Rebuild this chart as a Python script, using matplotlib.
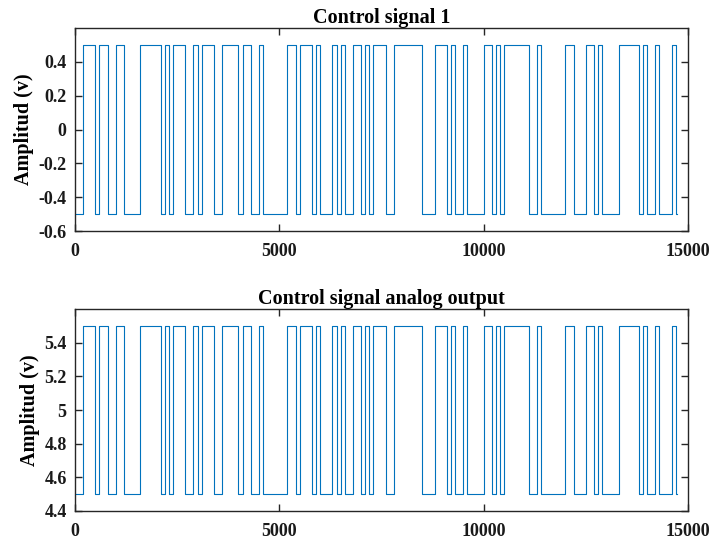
import matplotlib
matplotlib.use("Agg")
import matplotlib.pyplot as plt
import numpy as np

# Switching instants of the control signal (sample index) and level held from each instant
switch_times = [0, 200, 500, 600, 800, 1000, 1200, 1600, 2100, 2200, 2300, 2400, 2700,
                2900, 3000, 3100, 3400, 3600, 4000, 4100, 4300, 4500, 4600, 5200, 5400,
                5500, 5800, 5900, 6000, 6300, 6400, 6500, 6600, 6800, 7000, 7100, 7200,
                7300, 7600, 7800, 8500, 8800, 9100, 9200, 9300, 9500, 9600, 10000, 10200,
                10300, 10400, 10500, 11100, 11300, 11400, 12000, 12200, 12500, 12700,
                12800, 12900, 13300, 13800, 13900, 14000, 14200, 14300, 14600, 14700]
levels = [-0.5, 0.5, -0.5, 0.5, -0.5, 0.5, -0.5, 0.5, -0.5, 0.5, -0.5, 0.5, -0.5,
          0.5, -0.5, 0.5, -0.5, 0.5, -0.5, 0.5, -0.5, 0.5, -0.5, 0.5, -0.5,
          0.5, -0.5, 0.5, -0.5, 0.5, -0.5, 0.5, -0.5, 0.5, -0.5, 0.5, -0.5,
          0.5, -0.5, 0.5, -0.5, 0.5, -0.5, 0.5, -0.5, 0.5, -0.5, 0.5, -0.5,
          0.5, -0.5, 0.5, -0.5, 0.5, -0.5, 0.5, -0.5, 0.5, -0.5,
          0.5, -0.5, 0.5, -0.5, 0.5, -0.5, 0.5, -0.5, 0.5, -0.5]
end_time = 14740
analog_offset = 5.0

titles = ["Control signal 1", "Control signal analog output"]
ylabel = "Amplitud (v)"
xticks = [0, 5000, 10000, 15000]
yticks_top = [-0.6, -0.4, -0.2, 0, 0.2, 0.4]
ytick_labels_top = ["-0.6", "-0.4", "-0.2", "0", "0.2", "0.4"]
yticks_bot = [4.4, 4.6, 4.8, 5.0, 5.2, 5.4]
ytick_labels_bot = ["4.4", "4.6", "4.8", "5", "5.2", "5.4"]

t = np.array(switch_times + [end_time])
v = np.array(levels + [levels[-1]])

plt.rcParams['font.family'] = ['Liberation Serif', 'DejaVu Serif']
plt.rcParams['font.weight'] = 'bold'

fig = plt.figure(figsize=(7.12, 5.41), dpi=100)
ax1 = fig.add_axes([0.1053, 0.573, 0.861, 0.375])
ax2 = fig.add_axes([0.1053, 0.0555, 0.861, 0.373])

blue = '#0072BD'
axc = '#262626'

specs = [
    (ax1, v, (-0.6, 0.6), yticks_top, ytick_labels_top, titles[0]),
    (ax2, v + analog_offset, (4.4, 5.6), yticks_bot, ytick_labels_bot, titles[1]),
]
for ax, y, ylim, yt, ytl, title in specs:
    ax.plot(t, y, drawstyle='steps-post', color=blue, linewidth=0.8)
    ax.set_xlim(0, 15000)
    ax.set_ylim(*ylim)
    ax.set_xticks(xticks)
    ax.set_xticklabels([str(x) for x in xticks])
    ax.set_yticks(yt)
    ax.set_yticklabels(ytl)
    ax.tick_params(direction='in', length=5, width=1.0, colors=axc,
                   top=True, right=True, labelsize=13)
    ax.tick_params(axis='x', pad=8.5)
    ax.tick_params(axis='y', pad=6)
    for lab in ax.get_xticklabels() + ax.get_yticklabels():
        lab.set_fontweight('bold')
        lab.set_color('#1a1a1a')
    for s in ax.spines.values():
        s.set_color(axc)
        s.set_linewidth(1.0)
    ax.set_title(title, fontsize=14.5, fontweight='bold', pad=4)
    ax.set_ylabel(ylabel, fontsize=14.5, fontweight='bold', labelpad=3)

fig.savefig('out.png', dpi=100)
